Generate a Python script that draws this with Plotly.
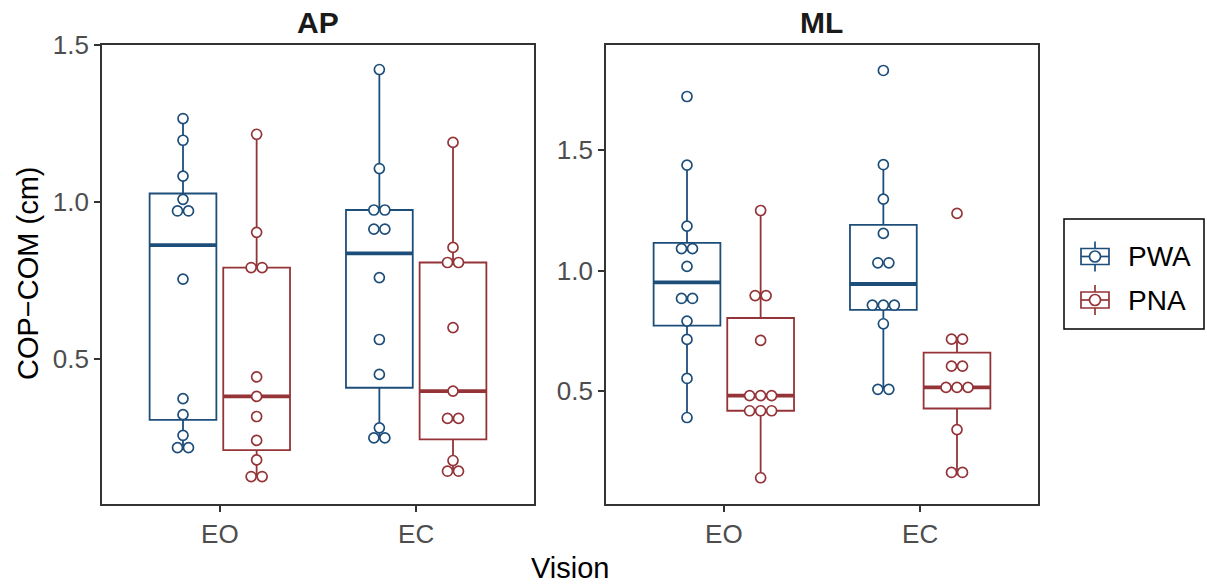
import numpy as np
import plotly.graph_objects as go

# ---------------- data ----------------
vision = ["EO", "EC"]
groups = ["PWA", "PNA"]
measures = ["AP", "ML"]

ap_eo_pwa = [1.266, 1.197, 1.083, 1.009, 0.972, 0.972, 0.755, 0.375, 0.324, 0.258, 0.219, 0.219]
ap_eo_pna = [1.216, 0.904, 0.792, 0.792, 0.444, 0.382, 0.318, 0.242, 0.180, 0.127, 0.127]
ap_ec_pwa = [1.422, 1.107, 0.975, 0.975, 0.914, 0.914, 0.760, 0.563, 0.452, 0.282, 0.250, 0.250]
ap_ec_pna = [1.190, 0.856, 0.808, 0.808, 0.601, 0.399, 0.312, 0.312, 0.178, 0.144, 0.144]
ml_eo_pwa = [1.722, 1.437, 1.184, 1.091, 1.091, 1.017, 0.884, 0.884, 0.790, 0.714, 0.552, 0.390]
ml_eo_pna = [1.249, 0.896, 0.896, 0.710, 0.481, 0.481, 0.481, 0.418, 0.418, 0.418, 0.140]
ml_ec_pwa = [1.830, 1.439, 1.296, 1.154, 1.032, 1.032, 0.856, 0.856, 0.856, 0.779, 0.507, 0.507]
ml_ec_pna = [1.237, 0.715, 0.715, 0.603, 0.603, 0.515, 0.515, 0.515, 0.340, 0.162, 0.162]

data = {
    ("AP", "EO", "PWA"): ap_eo_pwa,
    ("AP", "EO", "PNA"): ap_eo_pna,
    ("AP", "EC", "PWA"): ap_ec_pwa,
    ("AP", "EC", "PNA"): ap_ec_pna,
    ("ML", "EO", "PWA"): ml_eo_pwa,
    ("ML", "EO", "PNA"): ml_eo_pna,
    ("ML", "EC", "PWA"): ml_ec_pwa,
    ("ML", "EC", "PNA"): ml_ec_pna,
}

# ---------------- style ----------------
colors = {"PWA": "#1D4E7A", "PNA": "#943438"}
FONT = "Liberation Sans, Arial, Helvetica, sans-serif"
dodge = 0.1875
box_w = 0.34
dot_dx = 0.056

W, H = 1207, 586


def px(x):
    return x / W


def py(y):
    return 1 - y / H


fig = go.Figure()

for mi, m in enumerate(measures):
    xa = "x" if mi == 0 else "x2"
    ya = "y" if mi == 0 else "y2"
    for vi, v in enumerate(vision):
        for gi, g in enumerate(groups):
            vals = np.array(data[(m, v, g)], dtype=float)
            pos = (vi + 1) + (-dodge if gi == 0 else dodge)
            c = colors[g]
            q1, med, q3 = np.percentile(vals, [25, 50, 75])
            iqr = q3 - q1
            hi = vals[vals <= q3 + 1.5 * iqr].max()
            lo = vals[vals >= q1 - 1.5 * iqr].min()
            fig.add_trace(go.Box(
                x=[pos], q1=[q1], median=[med], q3=[q3],
                lowerfence=[lo], upperfence=[hi],
                width=box_w, whiskerwidth=0, boxpoints=False,
                fillcolor="rgba(255,255,255,0)",
                line=dict(color=c, width=1.8),
                name=g, showlegend=False,
                xaxis=xa, yaxis=ya, hoverinfo="skip",
            ))
            fig.add_trace(go.Scatter(
                x=[pos - box_w / 2, pos + box_w / 2], y=[med, med],
                mode="lines", line=dict(color=c, width=3.8),
                showlegend=False, xaxis=xa, yaxis=ya, hoverinfo="skip",
            ))
            # dot positions: identical values placed side by side
            xs = []
            keys = np.round(vals, 3)
            for i, k in enumerate(keys):
                same = np.where(keys == k)[0]
                n = len(same)
                j = list(same).index(i)
                xs.append(pos + (j - (n - 1) / 2) * dot_dx)
            fig.add_trace(go.Scatter(
                x=xs, y=vals, mode="markers", name=g,
                marker=dict(symbol="circle", size=10, color="white",
                            line=dict(color=c, width=1.7)),
                showlegend=False, xaxis=xa, yaxis=ya,
            ))

# ---------------- layout ----------------
left1, right1 = px(102), px(534)
left2, right2 = px(606), px(1038)
ybot, ytop = py(504.3), py(44.5)

axis_common = dict(
    showline=True, mirror=True, linecolor="#333333", linewidth=1.8,
    ticks="outside", ticklen=6, tickwidth=1.5, tickcolor="#333333",
    tickfont=dict(family=FONT, size=26, color="#4D4D4D"),
    showgrid=False, zeroline=False, automargin=False,
)

annotations = [
    dict(text="<b>AP</b>", x=(left1 + right1) / 2, y=py(22),
         xref="paper", yref="paper", showarrow=False,
         xanchor="center", yanchor="middle",
         font=dict(family=FONT, size=30, color="#1A1A1A")),
    dict(text="<b>ML</b>", x=(left2 + right2) / 2, y=py(22),
         xref="paper", yref="paper", showarrow=False,
         xanchor="center", yanchor="middle",
         font=dict(family=FONT, size=30, color="#1A1A1A")),
    dict(text="Vision", x=(left1 + right2) / 2, y=py(568),
         xref="paper", yref="paper", showarrow=False,
         xanchor="center", yanchor="middle",
         font=dict(family=FONT, size=29, color="#000000")),
    dict(text="COP−COM (cm)", x=px(28), y=py(274), textangle=-90,
         xref="paper", yref="paper", showarrow=False,
         xanchor="center", yanchor="middle",
         font=dict(family=FONT, size=29, color="#000000")),
]

# hand-drawn legend (box-plot key: box, median, circle, whisker)
shapes = [dict(type="rect", xref="paper", yref="paper",
               x0=px(1064), x1=px(1204), y0=py(329), y1=py(219),
               line=dict(color="#000000", width=1.5), fillcolor="white")]
leg_y = {"PWA": 256.5, "PNA": 300}
for g in groups:
    c = colors[g]
    yc = leg_y[g]
    shapes += [
        dict(type="line", xref="paper", yref="paper",
             x0=px(1095), x1=px(1095), y0=py(yc - 15), y1=py(yc + 15),
             line=dict(color=c, width=1.7)),
        dict(type="rect", xref="paper", yref="paper",
             x0=px(1081), x1=px(1109), y0=py(yc + 8), y1=py(yc - 8),
             line=dict(color=c, width=1.7), fillcolor="white"),
        dict(type="line", xref="paper", yref="paper",
             x0=px(1081), x1=px(1109), y0=py(yc), y1=py(yc),
             line=dict(color=c, width=1.7)),
        dict(type="circle", xref="paper", yref="paper",
             x0=px(1089.5), x1=px(1100.5), y0=py(yc + 5.5), y1=py(yc - 5.5),
             line=dict(color=c, width=1.7), fillcolor="white"),
    ]
    annotations.append(dict(
        text=g, x=px(1126), y=py(yc), xref="paper", yref="paper",
        showarrow=False, xanchor="left", yanchor="middle",
        font=dict(family=FONT, size=28, color="#000000")))

fig.update_layout(
    width=W, height=H,
    margin=dict(l=0, r=0, t=0, b=0, autoexpand=False),
    paper_bgcolor="white", plot_bgcolor="white",
    boxmode="overlay", showlegend=False,
    font=dict(family=FONT),
    xaxis=dict(domain=[left1, right1], range=[0.4, 2.6], tickvals=[1, 2],
               ticktext=vision, anchor="y", **axis_common),
    xaxis2=dict(domain=[left2, right2], range=[0.4, 2.6], tickvals=[1, 2],
                ticktext=vision, anchor="y2", **axis_common),
    yaxis=dict(domain=[ybot, ytop], range=[0.0387, 1.5016],
               tickvals=[0.5, 1.0, 1.5], ticktext=["0.5", "1.0", "1.5"],
               anchor="x", **axis_common),
    yaxis2=dict(domain=[ybot, ytop], range=[0.0299, 1.9378],
                tickvals=[0.5, 1.0, 1.5], ticktext=["0.5", "1.0", "1.5"],
                anchor="x2", **axis_common),
    annotations=annotations,
    shapes=shapes,
)

# remove the page's default body margin so the figure fills the window
fig.write_html(
    "out.html",
    config={"displayModeBar": False},
    post_script="document.body.style.margin='0';"
                "document.body.style.overflow='hidden';",
)
